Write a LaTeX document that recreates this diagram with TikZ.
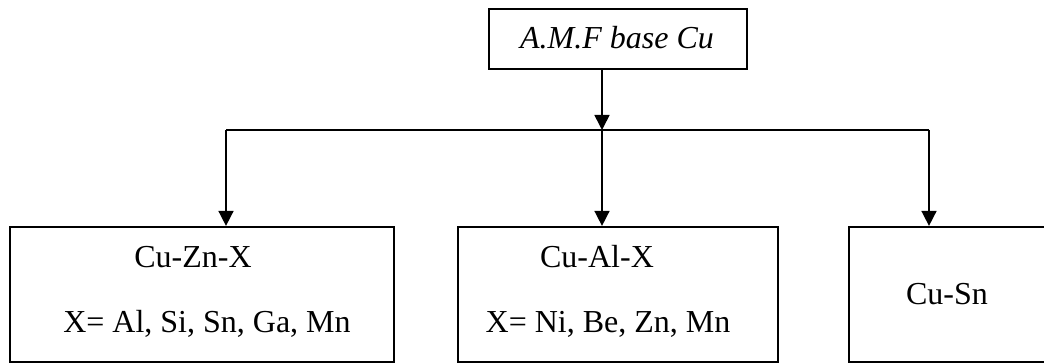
\documentclass[tikz,border=0pt]{standalone}
\usepackage{fontspec}
\setmainfont{Liberation Serif}
\usetikzlibrary{arrows.meta}

\begin{document}
\begin{tikzpicture}[x=0.5pt,y=-0.5pt,
  box/.style={draw,line width=1.1pt,inner sep=0pt},
  lbl/.style={anchor=base,inner sep=0pt,font=\fontsize{16}{19}\selectfont},
  arr/.style={line width=0.8pt,-{Triangle[width=7.5pt,length=7.5pt]}}]
\useasboundingbox (0,0) rectangle (1044,363);
\clip (0,0) rectangle (1044,363);
% boxes
\node[box,minimum width=129pt,minimum height=30pt] (amf) at (618,39) {};
\node[box,minimum width=192pt,minimum height=67.5pt] (cuzn) at (202,294.5) {};
\node[box,minimum width=160pt,minimum height=67.5pt] (cual) at (618,294.5) {};
\node[box,minimum width=105.5pt,minimum height=67.5pt] (cusn) at (954.5,294.5) {};
% texts
\node[lbl,font=\fontsize{16}{19}\selectfont\itshape] (amft) at (617,49) {A.M.F base Cu};
\node[lbl] (cuznt) at (193,268) {Cu-Zn-X};
\node[lbl] (cuznx) at (207,332) {X= Al, Si, Sn, Ga, Mn};
\node[lbl] (cualt) at (597,268) {Cu-Al-X};
\node[lbl] (cualx) at (608,332) {X= Ni, Be, Zn, Mn};
\node[lbl] (cusnt) at (947,305) {Cu-Sn};
% connectors
\coordinate (split) at (602,130);
\coordinate (jl) at (226,130);
\coordinate (jr) at (929,130);
\draw[arr] (split |- amf.south) -- (split);
\draw[line width=0.8pt] (jl) -- (jr);
\draw[arr] (jl) -- (jl |- cuzn.north);
\draw[arr] (split) -- (split |- cual.north);
\draw[arr] (jr) -- (jr |- cusn.north);
\end{tikzpicture}
\end{document}
